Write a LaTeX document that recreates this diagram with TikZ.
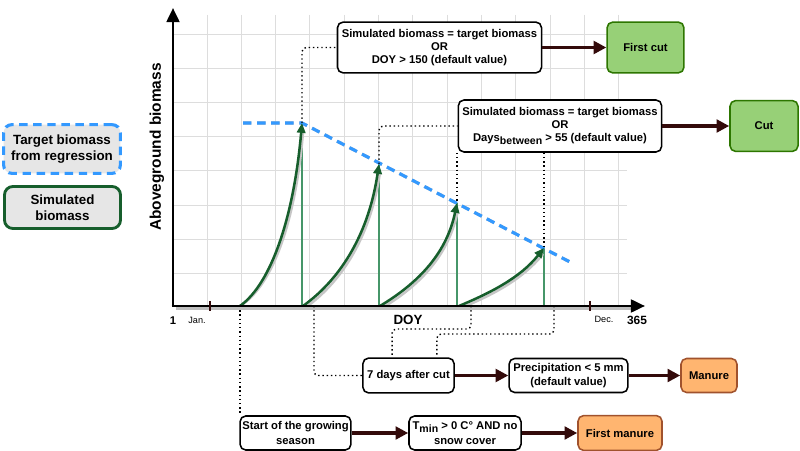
\documentclass[tikz,border=0pt]{standalone}
\usepackage{fontspec}
\setmainfont{Liberation Sans}
\usetikzlibrary{arrows.meta}
\definecolor{gridgray}{RGB}{221,221,221}
\definecolor{targetblue}{RGB}{51,153,255}
\definecolor{simgreen}{RGB}{22,94,44}
\definecolor{stemgreen}{RGB}{70,150,105}
\definecolor{arrowbrown}{RGB}{51,10,10}
\definecolor{cutgreen}{RGB}{151,208,119}
\definecolor{cutborder}{RGB}{45,118,0}
\definecolor{manureorange}{RGB}{255,181,112}
\definecolor{manureborder}{RGB}{160,82,45}
\definecolor{legendgray}{RGB}{230,230,230}
\begin{document}
\begin{tikzpicture}[x=0.025cm,y=-0.025cm,
  rule/.style={draw,rounded corners=4pt,fill=white,line width=1.1pt,align=center,inner sep=1pt,font=\fontsize{8}{9}\selectfont\bfseries},
  cutbox/.style={rule,fill=cutgreen,draw=cutborder},
  manurebox/.style={rule,fill=manureorange,draw=manureborder},
  action/.style={line width=2.2pt,arrowbrown,-{Triangle[length=9pt,width=9pt]}},
  dotline/.style={dotted,line width=1pt,rounded corners=3pt},
  growth/.style={line width=1.8pt,simgreen,-{Triangle[length=7pt,width=6pt]}},
  shade/.style={line width=1.8pt,gray!45},
  target/.style={line width=2.2pt,dash pattern=on 6pt off 4pt},
  axis/.style={line width=2pt,-{Triangle[length=10pt,width=9pt]}}]
\fill[white] (0,0) rectangle (800,451);
\useasboundingbox (0,0) rectangle (800,451);
\foreach \i in {0,...,12} \draw[gridgray,line width=0.6pt] ({207+34.3*\i},15) -- ({207+34.3*\i},305);
\foreach \j in {0,...,7} \draw[gridgray,line width=0.6pt] (173,{34+34.2*\j}) -- (627,{34+34.2*\j});
\coordinate (origin) at (173,306);
\coordinate (ytop) at (173,8);
\coordinate (xend) at (645,306);
\coordinate (plateau) at (243,123);
\coordinate (tip1) at (302,123);
\coordinate (tip2) at (379,164);
\coordinate (tip3) at (457,203);
\coordinate (tip4) at (544,248);
\coordinate (trend) at (570,262);
\coordinate (sow) at (240,306);
\coordinate (cut1g) at (314,306);
\coordinate (cut2g) at (471,306);
\coordinate (cut3g) at (554,306);
\draw[stemgreen,line width=0.8pt] (tip1) -- (tip1 |- origin);
\draw[stemgreen,line width=0.8pt] (tip2) -- (tip2 |- origin);
\draw[stemgreen,line width=0.8pt] (tip3) -- (tip3 |- origin);
\draw[stemgreen,line width=0.8pt] (tip4) -- (tip4 |- origin);
\draw[target,gray!55,shift={(1,2)}] (plateau) -- (tip1) -- (trend);
\draw[target,targetblue] (plateau) -- (tip1) -- (trend);
\draw[shade,shift={(2,2)}] (sow) .. controls (272,283) and (294,215) .. (301,130);
\draw[growth] (sow) .. controls (272,283) and (294,215) .. (tip1);
\draw[shade,shift={(2,2)}] (303,306) .. controls (342,278) and (369,232) .. (378,170);
\draw[growth] (303,306) .. controls (342,278) and (369,232) .. (tip2);
\draw[shade,shift={(2,2)}] (380,306) .. controls (420,282) and (447,252) .. (456,208);
\draw[growth] (380,306) .. controls (420,282) and (447,252) .. (tip3);
\draw[shade,shift={(2,2)}] (459,306) .. controls (490,293) and (520,278) .. (541,252);
\draw[growth] (459,306) .. controls (490,293) and (520,278) .. (tip4);
\draw[gray!50,line width=2pt] (176,308.5) -- (638,308.5);
\draw[axis] (origin) -- (ytop);
\draw[axis] ([xshift=-1pt]origin) -- (xend);
\draw[arrowbrown,line width=1.2pt] (210,301) -- (210,311);
\draw[arrowbrown,line width=1.2pt] (590,301) -- (590,311);
\node[font=\fontsize{8}{9}\selectfont\bfseries] (one) at (173,321) {1};
\node[font=\fontsize{6.5}{8}\selectfont] (jan) at (197,320) {Jan.};
\node[font=\fontsize{6.5}{8}\selectfont] (dec) at (604,319) {Dec.};
\node[font=\fontsize{8.5}{9}\selectfont\bfseries] (end) at (637,320) {365};
\node[font=\fontsize{9.5}{11}\selectfont\bfseries] (doy) at (408,320) {DOY};
\node[rotate=90,font=\fontsize{11}{13}\selectfont\bfseries] (ylabel) at (157,147) {Aboveground biomass};
\node[rule,minimum width=5.1cm,minimum height=1.27cm] (condA) at (439.5,47.5) {Simulated biomass = target biomass\\OR\\DOY > 150 (default value)};
\node[cutbox,minimum width=1.92cm,minimum height=1.27cm] (firstcut) at (645.5,47.5) {First cut};
\node[rule,minimum width=5.08cm,minimum height=1.3cm] (condB) at (560,126) {Simulated biomass = target biomass\\OR\\Days{\fontsize{7.5}{8}\selectfont\raisebox{-0.5ex}{between}} > 55 (default value)};
\node[cutbox,minimum width=1.7cm,minimum height=1.27cm] (cut) at (764,126) {Cut};
\node[rule,minimum width=2.28cm,minimum height=0.87cm] (seven) at (408.5,375.5) {7 days after cut};
\node[rule,minimum width=2.97cm,minimum height=0.85cm,font=\fontsize{8}{10}\selectfont\bfseries] (precip) at (568.5,375.5) {Precipitation < 5 mm\\(default value)};
\node[manurebox,minimum width=1.4cm,minimum height=0.85cm] (manure) at (709,375.5) {Manure};
\node[rule,minimum width=2.77cm,minimum height=0.85cm,font=\fontsize{8}{10.5}\selectfont\bfseries] (start) at (295.5,433) {Start of the growing\\season};
\node[rule,minimum width=2.8cm,minimum height=0.85cm,font=\fontsize{8}{10.5}\selectfont\bfseries] (tmin) at (465,433) {T{\fontsize{7.5}{8}\selectfont\raisebox{-0.5ex}{min}} > 0 C° AND no\\snow cover};
\node[manurebox,minimum width=2.1cm,minimum height=0.87cm] (firstmanure) at (620,433) {First manure};
\node[draw=targetblue,target,fill=legendgray,rounded corners=6pt,minimum width=2.92cm,minimum height=1.22cm,align=center,font=\fontsize{9.5}{11.3}\selectfont\bfseries] (legtarget) at (62,149) {Target biomass\\from regression};
\node[draw=simgreen,line width=2pt,fill=legendgray,rounded corners=6pt,minimum width=2.9cm,minimum height=1.05cm,align=center,font=\fontsize{9.5}{11.3}\selectfont\bfseries] (legsim) at (62.5,207.5) {Simulated\\biomass};
\draw[action] (condA) -- (firstcut);
\draw[action] (condB) -- (cut);
\draw[action] (seven) -- (precip);
\draw[action] (precip) -- (manure);
\draw[action] (start) -- (tmin);
\draw[action] (tmin) -- (firstmanure);
\draw[dotline] (tip1) |- (condA.west);
\draw[dotline] (tip2) |- (condB.west);
\draw[dotline] (tip3 |- condB.south) -- (tip3);
\draw[dotline] (tip4 |- condB.south) -- (tip4);
\draw[dotline] (sow) -- (sow |- start.north);
\draw[dotline] (cut1g) |- (seven.west);
\draw[dotline] (cut2g) -- ++(0,23) -| ([xshift=-0.41cm]seven.north);
\draw[dotline] (cut3g) -- ++(0,28) -| ([xshift=0.71cm]seven.north);
\end{tikzpicture}
\end{document}
